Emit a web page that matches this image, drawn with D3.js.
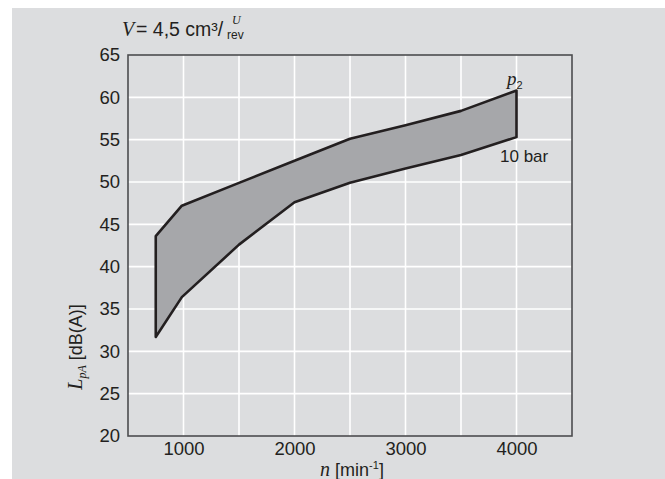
<!DOCTYPE html>
<html lang="en">
<head>
<meta charset="utf-8">
<title>Noise level</title>
<style>
  body { margin: 0; background: #fff; }
  text { font-family: "Liberation Sans", Arial, sans-serif; fill: #231f20; }
  .serif { font-family: "Liberation Serif", "Times New Roman", serif; font-style: italic; }
</style>
</head>
<body>
<div id="chart"></div>
<script src="https://cdn.jsdelivr.net/npm/d3@7/dist/d3.min.js"></script>
<script>
// speed n [min^-1] and sound pressure level [dB(A)]
var speeds = [750, 985, 1500, 2000, 2500, 3000, 3500, 4000];
var upperLevel = [43.6, 47.2, 49.9, 52.5, 55.1, 56.7, 58.4, 60.8];   // p2
var lowerLevel = [31.7, 36.4, 42.6, 47.6, 49.9, 51.6, 53.2, 55.3];   // 10 bar
var xTicks = [1000, 2000, 3000, 4000];
var xGrid = [1000, 1500, 2000, 2500, 3000, 3500, 4000];
var yTicks = [20, 25, 30, 35, 40, 45, 50, 55, 60, 65];

var W = 665, H = 479;
var svg = d3.select("#chart").append("svg")
    .attr("width", W).attr("height", H);

// page background
svg.append("rect").attr("x", 12).attr("y", 8)
    .attr("width", W - 12).attr("height", H - 8).attr("fill", "#dcdddf");

var x = d3.scaleLinear().domain([500, 4500]).range([128, 572]);
var y = d3.scaleLinear().domain([20, 65]).range([436, 55]);

// grid
svg.append("g").selectAll("line").data(xGrid).enter().append("line")
    .attr("x1", d => x(d)).attr("x2", d => x(d))
    .attr("y1", y(65)).attr("y2", y(20))
    .attr("stroke", "#fff").attr("stroke-width", 1.6);
svg.append("g").selectAll("line").data(yTicks.slice(1, -1)).enter().append("line")
    .attr("y1", d => y(d)).attr("y2", d => y(d))
    .attr("x1", x(500)).attr("x2", x(4500))
    .attr("stroke", "#fff").attr("stroke-width", 1.6);

// band between the two curves
var pts = speeds.map((s, i) => ({ n: s, lo: lowerLevel[i], hi: upperLevel[i] }));
var area = d3.area().x(d => x(d.n)).y0(d => y(d.lo)).y1(d => y(d.hi));
svg.append("path").datum(pts).attr("d", area)
    .attr("fill", "#a6a7aa");

// outline of the band (closed)
var outline = pts.map(d => [x(d.n), y(d.hi)])
    .concat(pts.slice().reverse().map(d => [x(d.n), y(d.lo)]));
svg.append("path").attr("d", d3.line()(outline) + "Z")
    .attr("fill", "none").attr("stroke", "#231f20")
    .attr("stroke-width", 2.6).attr("stroke-linejoin", "round");

// frame
svg.append("rect").attr("x", x(500)).attr("y", y(65))
    .attr("width", x(4500) - x(500)).attr("height", y(20) - y(65))
    .attr("fill", "none").attr("stroke", "#4d4d4f").attr("stroke-width", 1.6);

// axes (labels only)
var xAxis = svg.append("g").attr("transform", "translate(0," + y(20) + ")")
    .call(d3.axisBottom(x).tickValues(xTicks).tickFormat(d3.format("d")).tickSize(0));
var yAxis = svg.append("g").attr("transform", "translate(" + x(500) + ",0)")
    .call(d3.axisLeft(y).tickValues(yTicks).tickSize(0).tickPadding(8));
[xAxis, yAxis].forEach(function(g) {
  g.select(".domain").remove();
  g.selectAll("text").attr("font-size", 18.5).attr("fill", "#231f20")
    .attr("font-family", "Liberation Sans, Arial, sans-serif");
});
xAxis.selectAll("text").attr("dy", 0).attr("y", 19);

// title
svg.append("text").attr("class", "serif").attr("x", 122).attr("y", 36)
    .attr("font-size", 20).text("V");
svg.append("text").attr("x", 136).attr("y", 36).attr("font-size", 19.5).text("= 4,5 cm³/");
svg.append("text").attr("class", "serif").attr("x", 232).attr("y", 24)
    .attr("font-size", 12).text("U");
svg.append("text").attr("x", 227).attr("y", 39).attr("font-size", 12).text("rev");

// curve labels
var p = svg.append("text").attr("x", 507).attr("y", 85).attr("font-size", 19);
p.append("tspan").attr("class", "serif").text("p");
p.append("tspan").attr("font-size", 11).attr("dy", 4).text("2");
svg.append("text").attr("x", 500).attr("y", 162).attr("font-size", 17).text("10 bar");

// axis titles
var yl = svg.append("text").attr("transform", "translate(82,347) rotate(-90)")
    .attr("text-anchor", "middle").attr("font-size", 18);
yl.append("tspan").attr("class", "serif").attr("font-size", 20).text("L");
yl.append("tspan").attr("class", "serif").attr("font-size", 12).attr("dy", 4).text("pA");
yl.append("tspan").attr("dy", -4).text(" [dB(A)]");

var xl = svg.append("text").attr("x", 352).attr("y", 476)
    .attr("text-anchor", "middle").attr("font-size", 18);
xl.append("tspan").attr("class", "serif").attr("font-size", 20).text("n");
xl.append("tspan").text(" [min");
xl.append("tspan").attr("font-size", 11).attr("dy", -7).text("-1");
xl.append("tspan").attr("dy", 7).text("]");
</script>
</body>
</html>
